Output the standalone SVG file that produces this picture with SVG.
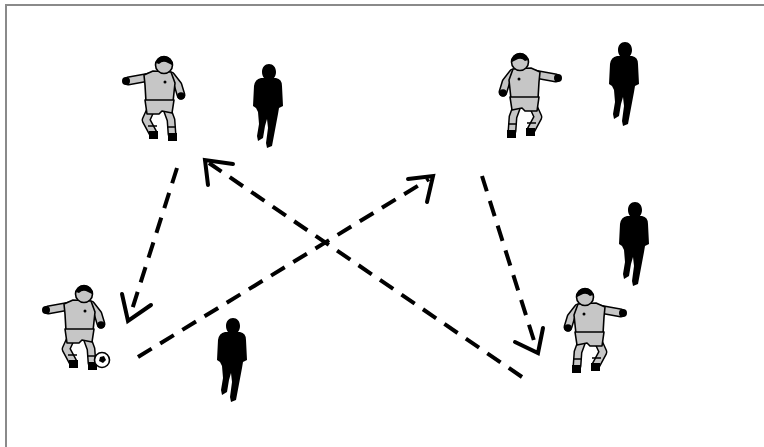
<svg xmlns="http://www.w3.org/2000/svg" width="764" height="447" viewBox="0 0 764 447">
<style>
.frame{fill:none;stroke:#8a8a8a;stroke-width:2}
.dash{fill:none;stroke:#000;stroke-width:4;stroke-dasharray:16 10}
.head{fill:none;stroke:#000;stroke-width:4;stroke-linecap:round;stroke-linejoin:miter}
.limbO{fill:none;stroke:#000;stroke-width:9;stroke-linecap:round;stroke-linejoin:round}
.limbI{fill:none;stroke:#c6c6c6;stroke-width:6;stroke-linecap:round;stroke-linejoin:round}
.cloth{fill:#c6c6c6;stroke:#000;stroke-width:1.6;stroke-linejoin:round}
.blk{fill:#000}
.sil{fill:#000}
</style>
<defs>
<path id="silhouette" class="sil" d="M8,14 L23,14 Q29,15 29,22 L30,42 L26,44 L25,50 L22,66 L19,82 L14,84 L13,79 L15,64 L14,55 L12,62 L10,74 L5,77 L4,72 L6,60 L5,48 L3,44 L0,42 L1,22 Q2,15 8,14 Z M16,0 C20,0 23,3 23,8 C23,13 20,16 16,16 C12,16 9,13 9,8 C9,3 12,0 16,0 Z"/>
<g id="player">
  <path class="limbO" d="M30,22 L8,26"/>
  <path class="limbO" d="M51,21 L58,30 L61,40"/>
  <path class="limbO" d="M31,54 L26,65 L33,78"/>
  <path class="limbO" d="M47,54 L51,65 L52,79"/>
  <path class="limbI" d="M30,22 L8,26"/>
  <path class="limbI" d="M51,21 L58,30 L61,40"/>
  <path class="limbI" d="M31,54 L26,65 L33,78"/>
  <path class="limbI" d="M47,54 L51,65 L52,79"/>
  <path class="cloth" d="M33,16 L51,17 L55,28 L53,47 L26,47 L25,30 L24,20 Z"/>
  <path class="cloth" d="M25,45 L54,45 L52,58 L42,56 L39,59 L27,59 Z"/>
  <circle class="cloth" cx="44" cy="10" r="8.5"/>
  <path class="blk" d="M36,8 Q38,0 45,1 Q53,3 52,10 L48,8 Q43,5 39,9 Z"/>
  <circle class="blk" cx="6" cy="26" r="4"/>
  <circle class="blk" cx="61" cy="41" r="3.8"/>
  <path class="blk" d="M29,76 L38,76 L38,84 L29,84 Z"/>
  <path class="blk" d="M48,78 L57,78 L57,86 L48,86 Z"/>
  <path d="M28,71 L37,71 M47,72 L56,72" stroke="#000" stroke-width="1.5"/>
  <circle class="blk" cx="45" cy="27" r="1.5"/>
</g>
</defs>

<path class="frame" d="M6,447 L6,5 L764,5"/>

<g id="player-top-left"><use href="#player" transform="translate(120,55)"/></g>
<g id="player-top-right"><use href="#player" transform="translate(564,52) scale(-1,1)"/></g>
<g id="player-bottom-left">
  <use href="#player" transform="translate(40,284)"/>
  <circle cx="102" cy="360" r="7.5" fill="#fff" stroke="#000" stroke-width="1.6"/>
  <path d="M100,357 L104,356 L106,360 L103,363 L99,361 Z" fill="#000"/>
</g>
<g id="player-bottom-right"><use href="#player" transform="translate(629,287) scale(-1,1)"/></g>

<g id="opponent-1"><use href="#silhouette" transform="translate(253,64)"/></g>
<g id="opponent-2"><use href="#silhouette" transform="translate(609,42)"/></g>
<g id="opponent-3"><use href="#silhouette" transform="translate(619,202)"/></g>
<g id="opponent-4"><use href="#silhouette" transform="translate(217,318)"/></g>

<g id="connectors">
  <path class="dash" d="M177,168 L130,316"/>
  <polyline class="head" points="122,294 128,321 151,305"/>
  <path class="dash" d="M522,377 L209,163"/>
  <polyline class="head" points="208,185 205,160 233,164"/>
  <path class="dash" d="M138,357 L429,179"/>
  <polyline class="head" points="408,179 433,176 427,202"/>
  <path class="dash" d="M482,176 L536,347"/>
  <polyline class="head" points="515,342 538,353 543,328"/>
</g>
</svg>
